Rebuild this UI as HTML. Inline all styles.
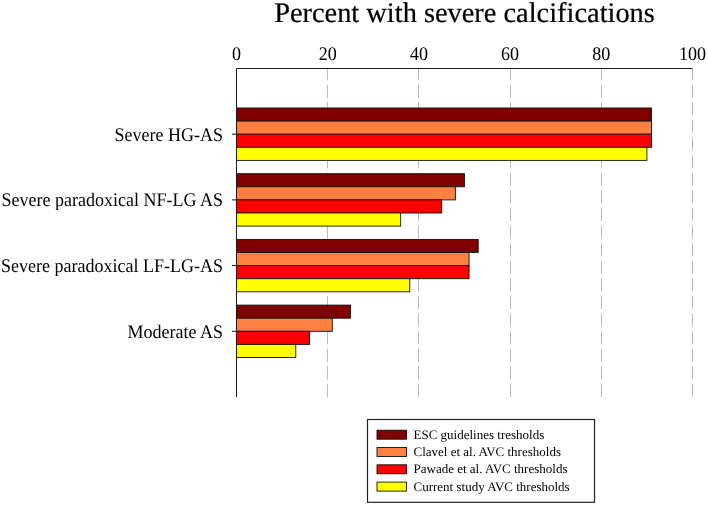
<!DOCTYPE html>
<html><head><meta charset="utf-8"><style>
html,body{margin:0;padding:0;background:#fff;}
svg{display:block;will-change:transform;font-family:"Liberation Serif",serif;}
text{fill:#000;text-rendering:geometricPrecision;}
</style></head><body>
<svg width="708" height="505" viewBox="0 0 708 505">
<line x1="327.50" y1="68.5" x2="327.50" y2="397.00" stroke="#bababa" stroke-width="1" stroke-dasharray="13 4.61" stroke-dashoffset="1.4"/>
<line x1="418.50" y1="68.5" x2="418.50" y2="397.00" stroke="#bababa" stroke-width="1" stroke-dasharray="13 4.61" stroke-dashoffset="1.4"/>
<line x1="510.50" y1="68.5" x2="510.50" y2="397.00" stroke="#bababa" stroke-width="1" stroke-dasharray="13 4.61" stroke-dashoffset="1.4"/>
<line x1="601.50" y1="68.5" x2="601.50" y2="397.00" stroke="#bababa" stroke-width="1" stroke-dasharray="13 4.61" stroke-dashoffset="1.4"/>
<line x1="692.50" y1="68.5" x2="692.50" y2="397.00" stroke="#bababa" stroke-width="1" stroke-dasharray="13 4.61" stroke-dashoffset="1.4"/>
<rect x="236.50" y="108.00" width="414.96" height="13.10" fill="#800000" stroke="#111" stroke-width="0.9"/>
<rect x="236.50" y="121.10" width="414.96" height="13.10" fill="#ff8040" stroke="#111" stroke-width="0.9"/>
<rect x="236.50" y="134.20" width="414.96" height="13.10" fill="#ff0000" stroke="#111" stroke-width="0.9"/>
<rect x="236.50" y="147.30" width="410.40" height="13.10" fill="#ffff00" stroke="#111" stroke-width="0.9"/>
<line x1="232.00" y1="134.20" x2="236.50" y2="134.20" stroke="#111" stroke-width="1"/>
<text transform="translate(223 140.70) scale(1 1.07)" text-anchor="end" font-size="18">Severe HG-AS</text>
<rect x="236.50" y="173.70" width="228.00" height="13.10" fill="#800000" stroke="#111" stroke-width="0.9"/>
<rect x="236.50" y="186.80" width="218.88" height="13.10" fill="#ff8040" stroke="#111" stroke-width="0.9"/>
<rect x="236.50" y="199.90" width="205.20" height="13.10" fill="#ff0000" stroke="#111" stroke-width="0.9"/>
<rect x="236.50" y="213.00" width="164.16" height="13.10" fill="#ffff00" stroke="#111" stroke-width="0.9"/>
<line x1="232.00" y1="199.90" x2="236.50" y2="199.90" stroke="#111" stroke-width="1"/>
<text transform="translate(223 206.40) scale(1 1.07)" text-anchor="end" font-size="18">Severe paradoxical NF-LG AS</text>
<rect x="236.50" y="239.40" width="241.68" height="13.10" fill="#800000" stroke="#111" stroke-width="0.9"/>
<rect x="236.50" y="252.50" width="232.56" height="13.10" fill="#ff8040" stroke="#111" stroke-width="0.9"/>
<rect x="236.50" y="265.60" width="232.56" height="13.10" fill="#ff0000" stroke="#111" stroke-width="0.9"/>
<rect x="236.50" y="278.70" width="173.28" height="13.10" fill="#ffff00" stroke="#111" stroke-width="0.9"/>
<line x1="232.00" y1="265.60" x2="236.50" y2="265.60" stroke="#111" stroke-width="1"/>
<text transform="translate(223 272.10) scale(1 1.07)" text-anchor="end" font-size="18">Severe paradoxical LF-LG-AS</text>
<rect x="236.50" y="305.10" width="114.00" height="13.10" fill="#800000" stroke="#111" stroke-width="0.9"/>
<rect x="236.50" y="318.20" width="95.76" height="13.10" fill="#ff8040" stroke="#111" stroke-width="0.9"/>
<rect x="236.50" y="331.30" width="72.96" height="13.10" fill="#ff0000" stroke="#111" stroke-width="0.9"/>
<rect x="236.50" y="344.40" width="59.28" height="13.10" fill="#ffff00" stroke="#111" stroke-width="0.9"/>
<line x1="232.00" y1="331.30" x2="236.50" y2="331.30" stroke="#111" stroke-width="1"/>
<text transform="translate(223 337.80) scale(1 1.07)" text-anchor="end" font-size="18">Moderate AS</text>
<line x1="236.5" y1="68.5" x2="692.50" y2="68.5" stroke="#1c1c1c" stroke-width="1.05"/>
<line x1="236.5" y1="68.5" x2="236.5" y2="397.00" stroke="#1c1c1c" stroke-width="1.05"/>
<text transform="translate(236.50 59.5) scale(1 1.07)" text-anchor="middle" font-size="18">0</text>
<text transform="translate(327.70 59.5) scale(1 1.07)" text-anchor="middle" font-size="18">20</text>
<text transform="translate(418.90 59.5) scale(1 1.07)" text-anchor="middle" font-size="18">40</text>
<text transform="translate(510.10 59.5) scale(1 1.07)" text-anchor="middle" font-size="18">60</text>
<text transform="translate(601.30 59.5) scale(1 1.07)" text-anchor="middle" font-size="18">80</text>
<text transform="translate(692.50 59.5) scale(1 1.07)" text-anchor="middle" font-size="18">100</text>
<text x="464.5" y="22.2" text-anchor="middle" font-size="28.4" stroke="#000" stroke-width="0.22">Percent with severe calcifications</text>
<rect x="367.5" y="419.5" width="227" height="82.8" fill="#fff" stroke="#222" stroke-width="1.2"/>
<rect x="377" y="430.20" width="29.5" height="9" fill="#800000" stroke="#111" stroke-width="0.9"/>
<text x="413.5" y="438.80" font-size="13">ESC guidelines tresholds</text>
<rect x="377" y="447.50" width="29.5" height="9" fill="#ff8040" stroke="#111" stroke-width="0.9"/>
<text x="413.5" y="456.10" font-size="13">Clavel et al. AVC thresholds</text>
<rect x="377" y="464.80" width="29.5" height="9" fill="#ff0000" stroke="#111" stroke-width="0.9"/>
<text x="413.5" y="473.40" font-size="13">Pawade et al. AVC thresholds</text>
<rect x="377" y="482.10" width="29.5" height="9" fill="#ffff00" stroke="#111" stroke-width="0.9"/>
<text x="413.5" y="490.70" font-size="13">Current study AVC thresholds</text>
</svg>
</body></html>
